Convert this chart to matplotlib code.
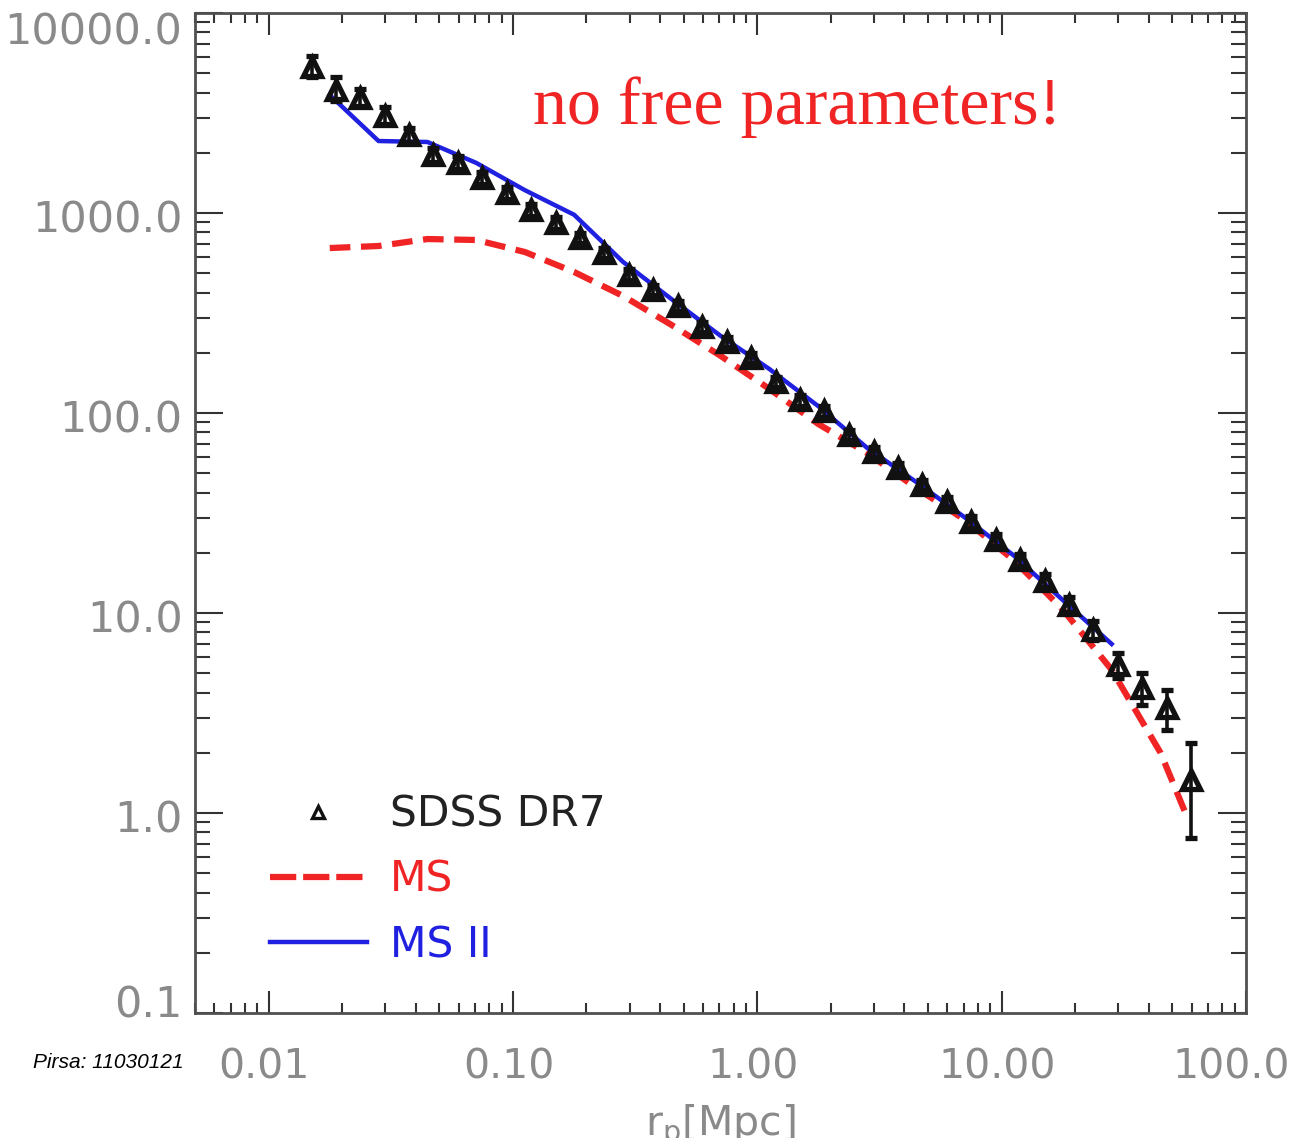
import matplotlib
matplotlib.use("Agg")
import matplotlib.pyplot as plt
from matplotlib.lines import Line2D
from matplotlib.transforms import ScaledTranslation
from matplotlib.ticker import FixedLocator, FixedFormatter, LogLocator, NullFormatter

plt.rcParams['mathtext.default'] = 'regular'

# ---------------- data ----------------
# SDSS DR7 measurements
sdss_r = [0.0150, 0.0188, 0.0237, 0.0299, 0.0376, 0.0473, 0.0596, 0.0750, 0.0944,
          0.119, 0.150, 0.188, 0.237, 0.299, 0.376, 0.473, 0.596, 0.750, 0.944,
          1.19, 1.50, 1.88, 2.37, 2.99, 3.76, 4.73, 5.96, 7.50, 9.44,
          11.9, 15.0, 18.8, 23.7, 29.9, 37.6, 47.3, 59.6]
sdss_w = [5370, 4120, 3760, 3055, 2455, 1950, 1780, 1496, 1260,
          1035, 891, 750, 631, 490, 412, 343, 269, 226, 188,
          143, 116, 102, 77.6, 63.8, 53.1, 43.7, 35.9, 28.5, 23.2,
          18.4, 14.5, 11.0, 8.2, 5.5, 4.2, 3.35, 1.46]
sdss_err_lo = [600, 500, 350, 280, 190, 145, 125, 100, 80,
               65, 55, 45, 38, 30, 25, 20, 16, 13, 11,
               8, 7, 6, 4.5, 3.8, 3.2, 2.6, 2.2, 1.8, 1.5,
               1.2, 1.0, 0.9, 0.85, 0.77, 0.73, 0.75, 0.71]
sdss_err_hi = [700, 650, 400, 320, 210, 160, 140, 110, 85,
               70, 60, 48, 40, 32, 26, 21, 17, 14, 12,
               9, 7.5, 6.5, 5.0, 4.0, 3.4, 2.8, 2.3, 1.9, 1.6,
               1.3, 1.1, 1.0, 0.95, 0.8, 0.8, 0.77, 0.78]

# MS (Millennium) model
ms_r = [0.0178, 0.0282, 0.0447, 0.0708, 0.112, 0.178, 0.282, 0.447, 0.708,
        1.12, 1.78, 2.82, 4.47, 7.08, 11.2, 17.8, 28.2, 44.7, 57.5]
ms_w = [668, 684, 741, 733, 638, 507, 385, 275, 193,
        132, 88, 63, 42.2, 29.2, 18.4, 10.4, 5.2, 2.0, 0.95]

# MS II model
ms2_r = [0.0178, 0.0282, 0.0447, 0.0708, 0.112, 0.178, 0.282, 0.447, 0.708,
         1.12, 1.78, 2.82, 4.47, 7.08, 11.2, 17.8, 28.2]
ms2_w = [3890, 2290, 2265, 1780, 1300, 980, 570, 370, 243,
         166, 108, 66.8, 45.2, 30.0, 19.4, 11.6, 7.0]

xtick_vals = [0.01, 0.1, 1.0, 10.0, 100.0]
xtick_labels = ["0.01", "0.10", "1.00", "10.00", "100.0"]
ytick_vals = [0.1, 1.0, 10.0, 100.0, 1000.0, 10000.0]
ytick_labels = ["0.1", "1.0", "10.0", "100.0", "1000.0", "10000.0"]

# ---------------- styling ----------------
RED = '#f02424'
BLUE = '#2020e0'
GRAY = '#8a8a8a'
SPINE = '#505050'

fig = plt.figure(figsize=(12.95, 11.38), dpi=100)
ax = fig.add_axes([195/1295, 1 - 1013/1138, (1246-195)/1295, 1000/1138])
ax.set_xscale('log')
ax.set_yscale('log')
ax.set_xlim(0.005, 100)
ax.set_ylim(0.1, 10000)

ax.plot(ms_r, ms_w, color=RED, lw=4.5, dashes=(3.3, 1.7), zorder=2)
ax.plot(ms2_r, ms2_w, color=BLUE, lw=3.2, zorder=3)
ax.errorbar(sdss_r, sdss_w, yerr=[sdss_err_lo, sdss_err_hi], fmt='^',
            color='#111111', ecolor='#111111', mfc='none', mec='#111111',
            ms=13, mew=3.8, elinewidth=2.6, capsize=4.5, capthick=2.6, zorder=4)

# axes, ticks
for s in ax.spines.values():
    s.set_color(SPINE)
    s.set_linewidth(2)

ax.xaxis.set_major_locator(FixedLocator(xtick_vals))
ax.xaxis.set_major_formatter(FixedFormatter(xtick_labels))
ax.xaxis.set_minor_locator(LogLocator(base=10, subs=range(2, 10), numticks=20))
ax.xaxis.set_minor_formatter(NullFormatter())
ax.yaxis.set_major_locator(FixedLocator(ytick_vals))
ax.yaxis.set_major_formatter(FixedFormatter(ytick_labels))
ax.yaxis.set_minor_locator(LogLocator(base=10, subs=range(2, 10), numticks=20))
ax.yaxis.set_minor_formatter(NullFormatter())

ax.tick_params(axis='x', which='major', direction='in', top=True, bottom=True,
               length=16, width=1.5, color='#333333', labelsize=29.5,
               labelcolor=GRAY, pad=25)
ax.tick_params(axis='x', which='minor', direction='in', top=True, bottom=True,
               length=7, width=1.5, color='#333333')
ax.tick_params(axis='y', which='major', direction='in', left=True, right=True,
               length=20, width=1.5, color='#333333', labelsize=31,
               labelcolor=GRAY, pad=9)
ax.tick_params(axis='y', which='minor', direction='in', left=True, right=True,
               length=11, width=1.5, color='#333333')

# legend
handles = [
    Line2D([], [], marker='^', ls='none', color='#111111', mfc='none', ms=9, mew=2.4),
    Line2D([], [], color=RED, lw=4.5, dashes=(4.2, 1.1)),
    Line2D([], [], color=BLUE, lw=3.2),
]
leg = ax.legend(handles, ["SDSS DR7", "MS", "MS II"], loc='center left',
                bbox_to_anchor=(0.071, 0.133), frameon=False, fontsize=30.5,
                handlelength=2.3, handletextpad=0.55, labelspacing=0.55,
                borderpad=0, borderaxespad=0)
for t, c in zip(leg.get_texts(), ['#222222', RED, BLUE]):
    t.set_color(c)

# annotations
fig.text(533/1295, 1 - 124/1138, "no free parameters!", color=RED,
         fontsize=49, family='Liberation Serif', ha='left', va='baseline')
fig.text(33/1295, 1 - 1062/1138, "Pirsa: 11030121", color='black',
         fontsize=15, family='Liberation Sans', style='italic',
         ha='left', va='center')
fig.text(720/1295, 1 - 1103/1138, r"r$_p$[Mpc]", color=GRAY, fontsize=29.5,
         ha='center', va='top')

# nudge tick labels like the original plotting package does
fig.canvas.draw()
def nudge(label, dx_pt, dy_pt):
    label.set_transform(label.get_transform() +
                        ScaledTranslation(dx_pt/72, dy_pt/72, fig.dpi_scale_trans))

xt = ax.xaxis.get_major_ticks()
for i, t in enumerate(xt[:len(xtick_vals)]):
    nudge(t.label1, -11 if i == len(xtick_vals) - 1 else -3, 0)
yt = ax.yaxis.get_major_ticks()
for i, t in enumerate(yt[:len(ytick_vals)]):
    if i == 0:
        nudge(t.label1, 0, 9)
    elif i == len(ytick_vals) - 1:
        nudge(t.label1, 0, -11)
    else:
        nudge(t.label1, 0, -2)

fig.savefig("out.png", dpi=100, facecolor='white')
